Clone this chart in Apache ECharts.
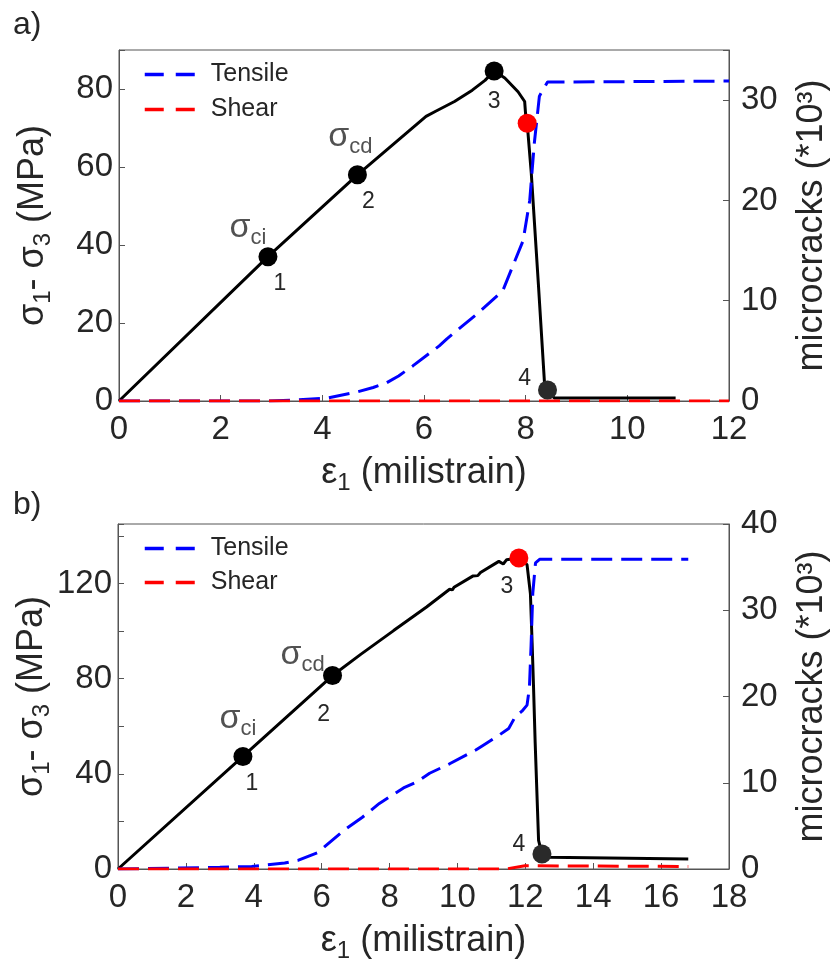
<!DOCTYPE html>
<html>
<head>
<meta charset="utf-8">
<script src="https://cdn.jsdelivr.net/npm/echarts@6/dist/echarts.min.js"></script>
<style>
  html, body { margin: 0; padding: 0; background: #fff; }
  #chart { width: 838px; height: 964px; }
</style>
</head>
<body>
<div id="chart"></div>
<script>
// ---- panel a) ----
const stressA = [[0,0],[2.93,37],[4.69,58],[6.04,73],[6.23,74.3],[6.6,76.8],[6.95,79.7],[7.2,82.2],[7.38,84.6],[7.59,82.8],[7.85,79.3],[7.98,76.8],[8.0,73.3],[8.03,71.2],[8.11,58.5],[8.25,30],[8.37,4.7],[8.43,2.8],[8.56,0.8],[10.95,0.8]];
const tensileA = [[0,0],[2.9,0],[3.5,0.1],[4.1,0.3],[4.68,0.9],[5.0,1.35],[5.26,1.8],[5.5,2.5],[5.78,3.5],[6.3,5.5],[6.45,6.2],[7.07,8.8],[7.55,11.0],[7.75,13.5],[7.95,16],[8.08,20],[8.17,25.7],[8.27,30.4],[8.43,31.8],[12,31.9]];
const shearA = [[0,0],[12,0]];
const stagePointsA = [[2.93,37],[4.69,58],[7.38,84.6],[8.43,2.8]];
const redPointA = [[8.03,71.2]];

// ---- panel b) ----
const stressB = [[0,0],[3.68,47.3],[6.32,81.3],[7.15,90.2],[8.12,100.2],[9.09,110.1],[9.77,117.6],[9.85,117.3],[9.9,118.4],[10.45,123.1],[10.6,123.3],[10.68,124.6],[11.22,129.3],[11.35,128.2],[11.45,130],[11.81,130.7],[12.05,127.9],[12.15,115.6],[12.2,95],[12.24,77.2],[12.29,53],[12.39,12],[12.49,6.3],[12.7,4.9],[16.8,4.2]];
const tensileB = [[0,0],[3.0,0.2],[3.94,0.3],[4.91,0.7],[5.3,1.0],[5.88,1.9],[6.66,4.5],[7.2,6.0],[7.7,7.6],[8.41,9.4],[8.8,10.1],[9.18,11.1],[9.77,12.2],[10.54,13.8],[10.74,14.3],[11.22,15.5],[11.51,16.3],[11.71,17.7],[11.9,18.3],[12.05,19.0],[12.12,21],[12.17,26],[12.22,32],[12.3,35.5],[12.42,35.9],[16.8,35.9]];
const shearB = [[0,0],[11.42,0],[11.99,0.37],[16.8,0.3]];
const stagePointsB = [[3.68,47.3],[6.32,81.3],[12.49,6.3]];
const redPointB = [[11.81,130.7]];

// ---- labels ----
const stageNumbersA = ['1','2','3','4'];
const stageNumbersB = ['1','2','4'];
const redNumbersB = ['3'];
const thresholdNames = ['ci','cd'];
const xTicksA = [0,2,4,6,8,10,12];
const xTicksB = [0,2,4,6,8,10,12,14,16,18];
const stressTicksA = [0,20,40,60,80];
const stressTicksB = [0,40,80,120];
const crackTicksA = [0,10,20,30];
const crackTicksB = [0,10,20,30,40];

const FONT = 'Liberation Sans, Arial, sans-serif';
const TXT = '#262626';
const AXIS = '#555555';

// main text + lowered subscript
const subRich = {
  m:   { fontSize: 36, fontFamily: FONT, color: TXT, verticalAlign: 'top', lineHeight: 36 },
  sub: { fontSize: 24, fontFamily: FONT, color: TXT, verticalAlign: 'bottom', padding: [16,0,0,0], lineHeight: 40 }
};
const sigRich = {
  s:   { fontSize: 34, fontFamily: FONT, color: TXT, verticalAlign: 'top', lineHeight: 34 },
  sub: { fontSize: 22, fontFamily: FONT, color: TXT, verticalAlign: 'bottom', padding: [16,0,0,0], lineHeight: 38 }
};

function labelFilter(list) {
  return v => (list.indexOf(Math.round(v * 1000) / 1000) >= 0 ? String(v) : '');
}

function xAxis(gridIndex, max, ticks) {
  return {
    type: 'value', gridIndex, min: 0, max, interval: 2,
    name: '{m|ε}{sub|1}{m| (milistrain)}',
    nameLocation: 'middle', nameGap: 54, nameMoveOverlap: false,
    nameTextStyle: { rich: subRich },
    axisLine: { show: true, onZero: false, lineStyle: { color: AXIS, width: 1 } },
    axisTick: { show: true, inside: true, length: 6, lineStyle: { color: AXIS } },
    axisLabel: { fontSize: 33, fontFamily: FONT, color: TXT, margin: 12, formatter: labelFilter(ticks) },
    splitLine: { show: false }
  };
}
function leftAxis(gridIndex, max, interval, ticks) {
  return {
    type: 'value', gridIndex, position: 'left', min: 0, max, interval,
    name: '{m|σ}{sub|1}{m|- σ}{sub|3}{m| (MPa)}',
    nameLocation: 'middle', nameGap: 64, nameRotate: 90, nameMoveOverlap: false,
    nameTextStyle: { rich: subRich },
    axisLine: { show: true, onZero: false, lineStyle: { color: AXIS, width: 1 } },
    axisTick: { show: true, inside: true, length: 6, lineStyle: { color: AXIS } },
    axisLabel: { fontSize: 33, fontFamily: FONT, color: TXT, margin: 6, formatter: labelFilter(ticks) },
    splitLine: { show: false }
  };
}
function rightAxis(gridIndex, max, ticks) {
  return {
    type: 'value', gridIndex, position: 'right', min: 0, max, interval: 10,
    name: 'microcracks (*10³)',
    nameLocation: 'middle', nameGap: 65, nameRotate: 90, nameMoveOverlap: false,
    nameTextStyle: { fontSize: 36, fontFamily: FONT, color: TXT },
    axisLine: { show: true, onZero: false, lineStyle: { color: AXIS, width: 1 } },
    axisTick: { show: true, inside: true, length: 6, lineStyle: { color: AXIS } },
    axisLabel: { fontSize: 33, fontFamily: FONT, color: TXT, margin: 12, formatter: labelFilter(ticks) },
    splitLine: { show: false }
  };
}

function curve(name, xi, yi, data, color, dashed) {
  return {
    type: 'line', name, xAxisIndex: xi, yAxisIndex: yi, data,
    symbol: 'none', smooth: false, silent: true,
    lineStyle: { color, width: 3, type: dashed ? [21, 9] : 'solid' },
    itemStyle: { color }
  };
}

// label placement of each stage marker (offset from the marker centre)
const numOffsetsA = [[12,27],[11,27],[0,31],[-23,-11]];
const numOffsetsB = [[9,27],[-9,39],[-23,-9]];
const redOffsetsB = [[-12,29]];
const nameOffsetsA = [[-20,-27],[-7,-36]];
const nameOffsetsB = [[-5,-36],[-30,-19]];

function markers(xi, yi, pts, labels, offsets, colors) {
  return {
    type: 'scatter', xAxisIndex: xi, yAxisIndex: yi, z: 5, silent: true,
    symbol: 'circle', symbolSize: 19,
    data: pts.map((p, i) => ({
      value: p,
      itemStyle: { color: colors[i], opacity: 1 },
      label: {
        show: true, position: 'inside', offset: offsets[i],
        formatter: labels[i], fontSize: 23, fontFamily: FONT, color: TXT
      }
    }))
  };
}
function thresholdLabels(xi, yi, pts, offsets) {
  return {
    type: 'scatter', xAxisIndex: xi, yAxisIndex: yi, z: 6, silent: true,
    symbol: 'circle', symbolSize: 1, itemStyle: { color: 'rgba(0,0,0,0)' },
    data: pts.map((p, i) => ({
      value: p,
      label: {
        show: true, position: 'inside', offset: offsets[i],
        formatter: '{s|σ}{sub|' + thresholdNames[i] + '}', rich: sigRich
      }
    }))
  };
}

const legendBase = {
  data: ['Tensile', 'Shear'], orient: 'vertical', left: 143,
  itemWidth: 50, itemHeight: 14, padding: 0,
  selectedMode: false,
  itemStyle: { opacity: 0, borderWidth: 0 },
  lineStyle: { width: 3.5, type: [19, 12] },
  textStyle: { fontSize: 25, fontFamily: FONT, color: TXT, padding: [0,0,0,11] }
};

const option = {
  animation: false,
  backgroundColor: '#ffffff',
  title: [
    { text: 'a)', left: 13, top: 9, padding: 0, textStyle: { fontSize: 32, fontWeight: 'normal', fontFamily: FONT, color: TXT } },
    { text: 'b)', left: 13, top: 489, padding: 0, textStyle: { fontSize: 32, fontWeight: 'normal', fontFamily: FONT, color: TXT } }
  ],
  legend: [
    Object.assign({}, legendBase, { top: 62, itemGap: 10 }),
    Object.assign({}, legendBase, { top: 536, itemGap: 9 })
  ],
  grid: [
    { left: 119, top: 50, width: 618, height: 351, show: true, borderColor: AXIS, borderWidth: 1, containLabel: false },
    { left: 118, top: 524, width: 618, height: 352, show: true, borderColor: AXIS, borderWidth: 1, containLabel: false }
  ],
  xAxis: [ xAxis(0, 12, xTicksA), xAxis(1, 18, xTicksB) ],
  yAxis: [
    leftAxis(0, 90, 20, stressTicksA),
    rightAxis(0, 35, crackTicksA),
    leftAxis(1, 145, 20, stressTicksB),
    rightAxis(1, 40, crackTicksB)
  ],
  series: [
    curve('stressA', 0, 0, stressA, '#000000', false),
    curve('Tensile', 0, 1, tensileA, '#0000ff', true),
    curve('Shear', 0, 1, shearA, '#ff0000', true),
    markers(0, 0, stagePointsA, stageNumbersA, numOffsetsA, ['#000000','#000000','#000000','#2a2a2a']),
    markers(0, 0, redPointA, [''], [[0,0]], ['#ff0000']),
    thresholdLabels(0, 0, stagePointsA.slice(0, 2), nameOffsetsA),

    curve('stressB', 1, 2, stressB, '#000000', false),
    curve('Tensile', 1, 3, tensileB, '#0000ff', true),
    curve('Shear', 1, 3, shearB, '#ff0000', true),
    markers(1, 2, stagePointsB, stageNumbersB, numOffsetsB, ['#000000','#000000','#2a2a2a']),
    markers(1, 2, redPointB, redNumbersB, redOffsetsB, ['#ff0000']),
    thresholdLabels(1, 2, stagePointsB.slice(0, 2), nameOffsetsB)
  ]
};

const chart = echarts.init(document.getElementById('chart'), null, { renderer: 'canvas' });
chart.setOption(option);
</script>
</body>
</html>
